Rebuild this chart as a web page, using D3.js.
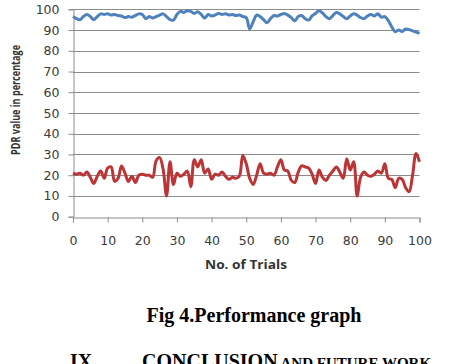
<!DOCTYPE html>
<html>
<head>
<meta charset="utf-8">
<script src="https://cdn.jsdelivr.net/npm/d3@7"></script>
<style>
  body { margin: 0; background: #fff; }
  svg { display: block; }
</style>
</head>
<body>
<script>
// PDR values per trial (0..100)
var trials = d3.range(0, 101);

var upperSeries = [
  96.5, 95.5, 95, 96.5, 97.5, 96.5, 95, 96.5, 97.8, 97.5,
  97.8, 97.2, 97.5, 97, 96.8, 96, 96.5, 96.2, 97, 97.8,
  97.5, 95.5, 96.5, 95.8, 96.5, 97.2, 97.8, 96.5, 95, 94.8,
  97.5, 99, 98.5, 99.3, 99, 98, 98.8, 97.5, 95.8, 97.5,
  96.8, 97.2, 98, 97.5, 97.8, 97.3, 97.5, 97, 97.2, 96.5,
  96, 90.5, 94, 97.2, 96.5, 95, 93.5, 95.5, 97, 96.8,
  97.5, 98, 97.2, 96, 94.5, 96.5, 97, 95.5, 94.8, 96.8,
  98, 99.3, 98.2, 96.5, 95.5, 97, 98.5, 97.8, 96.5, 95.5,
  96.8, 97.8, 97.2, 96, 95.5, 96.8, 97.5, 96.8, 97.8, 96.2,
  96.5, 94.5, 91.5, 89.2, 90, 89.3, 90.5, 90.2, 89.6, 89,
  88.4
];

var lowerSeries = [
  21, 20.5, 21, 20, 21.5, 19, 16, 19.5, 22, 18.5,
  23.5, 24, 17, 18.5, 24.5, 21, 17, 19.5, 16.5, 20,
  20.5, 20, 20, 19, 27, 28.5, 23, 10, 26.5, 15.5,
  21, 19.5, 20.5, 22, 14.5, 27.5, 24, 27.5, 21, 23,
  18, 20.5, 20, 21.5, 19.5, 18, 19, 18.5, 19.5, 29.5,
  25.5, 18.5, 15.5, 20, 25.5, 21, 20.5, 21, 20, 24,
  27.5, 22.5, 22, 17.5, 16.5, 21.5, 24.5, 24, 23.5, 20.5,
  16, 22.5, 19, 17.5, 20, 22, 24, 21.5, 18.5, 28,
  22.5, 26.5, 10, 19, 21.5, 20, 19.5, 20.5, 22, 21,
  25.5, 18.5, 18, 14, 18.5, 18, 14, 12, 20, 30.5,
  26.5
];

var yTicks = [0, 10, 20, 30, 40, 50, 60, 70, 80, 90, 100];
var xTicks = [0, 10, 20, 30, 40, 50, 60, 70, 80, 90, 100];

var width = 453,
    height = 364;

var x = d3.scaleLinear().domain([0, 100]).range([73, 419.5]);
var y = d3.scaleLinear().domain([0, 100]).range([216.7, 9.3]);

var svg = d3.select("body")
    .append("svg")
    .attr("width", width)
    .attr("height", height);

// gridlines
svg.append("g")
    .selectAll("line")
    .data(yTicks.slice(1))
    .enter()
    .append("line")
    .attr("x1", x(0))
    .attr("x2", x(100))
    .attr("y1", function(d) { return Math.round(y(d)) + 0.5; })
    .attr("y2", function(d) { return Math.round(y(d)) + 0.5; })
    .attr("stroke", "#8c8c8c")
    .attr("stroke-width", 1);

// axes
var yAxis = svg.append("g")
    .attr("transform", "translate(" + (Math.round(x(0)) + 0.5) + ",0)")
    .call(d3.axisLeft(y).tickValues(yTicks).tickSize(5).tickPadding(9));

var xAxis = svg.append("g")
    .attr("transform", "translate(0," + (Math.round(y(0)) + 0.5) + ")")
    .call(d3.axisBottom(x).tickValues(xTicks).tickSize(5).tickPadding(14));

[yAxis, xAxis].forEach(function(a) {
    a.select(".domain").attr("stroke", "#8c8c8c");
    a.selectAll(".tick line").attr("stroke", "#8c8c8c");
    a.selectAll(".tick text")
        .attr("fill", "#3a3a3a")
        .attr("font-family", "DejaVu Sans")
        .attr("font-size", "12.5px");
});
yAxis.selectAll(".tick text").attr("x", -14);

// series
var line = d3.line()
    .x(function(d, i) { return x(trials[i]); })
    .y(function(d) { return y(d); })
    .curve(d3.curveCatmullRom);

svg.append("path")
    .datum(upperSeries)
    .attr("d", line)
    .attr("fill", "none")
    .attr("stroke", "#4f81bd")
    .attr("stroke-width", 3)
    .attr("stroke-linejoin", "round");

svg.append("path")
    .datum(lowerSeries)
    .attr("d", line)
    .attr("fill", "none")
    .attr("stroke", "#bb3436")
    .attr("stroke-width", 3)
    .attr("stroke-linejoin", "round");

// axis titles
svg.append("text")
    .text("No. of Trials")
    .attr("x", 246)
    .attr("y", 269)
    .attr("text-anchor", "middle")
    .attr("textLength", 82)
    .attr("lengthAdjust", "spacingAndGlyphs")
    .attr("font-family", "Open Sans")
    .attr("font-weight", "bold")
    .attr("font-size", "12px")
    .attr("fill", "#333");

svg.append("text")
    .text("PDR value in percentage")
    .attr("transform", "translate(20,100) rotate(-90)")
    .attr("text-anchor", "middle")
    .attr("textLength", 110)
    .attr("lengthAdjust", "spacingAndGlyphs")
    .attr("font-family", "Open Sans")
    .attr("font-weight", "bold")
    .attr("font-size", "12.5px")
    .attr("fill", "#333");

// caption and next heading
svg.append("text")
    .text("Fig 4.Performance graph")
    .attr("x", 254)
    .attr("y", 321.5)
    .attr("text-anchor", "middle")
    .attr("font-family", "Liberation Serif")
    .attr("font-weight", "bold")
    .attr("font-size", "20px")
    .attr("fill", "#000");

var heading = svg.append("text")
    .attr("y", 367.5)
    .attr("font-family", "Liberation Serif")
    .attr("font-weight", "bold")
    .attr("fill", "#000");

heading.append("tspan").attr("x", 70).attr("font-size", "20px").text("IX.");
heading.append("tspan").attr("x", 142).attr("font-size", "20px").text("CONCLUSION");
heading.append("tspan").attr("font-size", "15px").text(" AND FUTURE WORK");
</script>
</body>
</html>
